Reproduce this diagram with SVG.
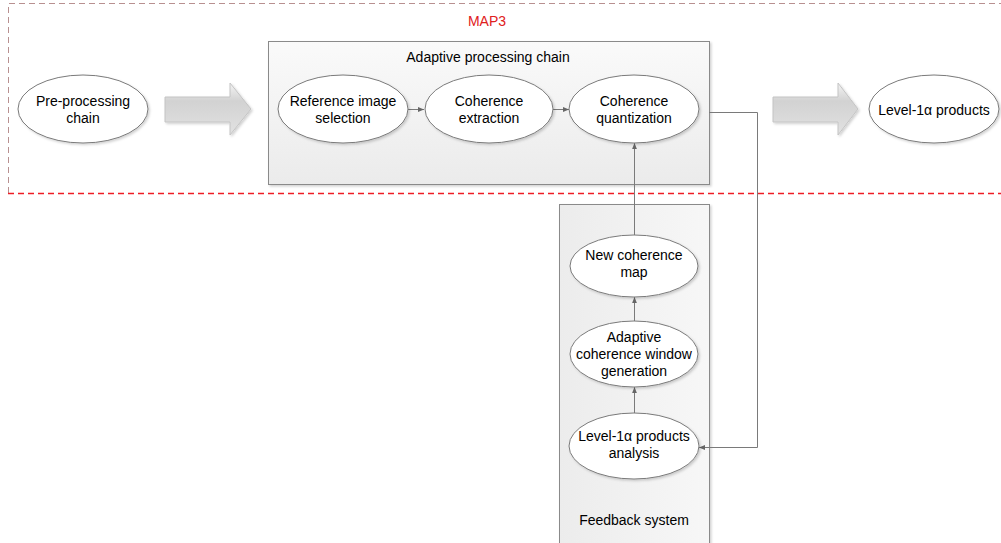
<svg xmlns="http://www.w3.org/2000/svg" width="1001" height="543" viewBox="0 0 1001 543">
<defs>
<linearGradient id="boxg" x1="0" y1="0" x2="0" y2="1"><stop offset="0" stop-color="#fafafa"/><stop offset="1" stop-color="#ebebeb"/></linearGradient>
<linearGradient id="fbg" x1="0" y1="0" x2="1" y2="0"><stop offset="0" stop-color="#ececec"/><stop offset="1" stop-color="#f7f7f7"/></linearGradient>
<linearGradient id="arrg" x1="0" y1="0" x2="0" y2="1"><stop offset="0" stop-color="#f4f4f4"/><stop offset="0.35" stop-color="#d2d2d2"/><stop offset="1" stop-color="#e2e2e2"/></linearGradient>
<marker id="ah" viewBox="0 0 10 10" refX="10" refY="5" markerWidth="6" markerHeight="6" orient="auto" markerUnits="userSpaceOnUse"><path d="M0,1 L10,5 L0,9 Z" fill="#666"/></marker>
<filter id="sh" x="-10%" y="-10%" width="130%" height="130%"><feDropShadow dx="1.5" dy="1.5" stdDeviation="1.2" flood-color="#000" flood-opacity="0.18"/></filter>
</defs>
<style>
text{font-family:"Liberation Sans",Arial,sans-serif;font-size:14px;fill:#000;text-anchor:middle}
.el{fill:#fff;stroke:#7a7a7a;stroke-width:1;filter:url(#sh)}
.box{stroke:#8a8a8a;stroke-width:1;filter:url(#sh)}
.con{fill:none;stroke:#7a7a7a;stroke-width:1}
.big{fill:url(#arrg);stroke:#c4c4c4;stroke-width:1;filter:url(#sh)}
</style>
<rect width="1001" height="543" fill="#fff"/>
<g id="map3">
<path d="M8.5,193 L8.5,3.5 L1001,3.5" fill="none" stroke="#b89090" stroke-width="1" stroke-dasharray="6,4"/>
<line x1="8" y1="193.5" x2="1001" y2="193.5" stroke="#ee1c24" stroke-width="1.4" stroke-dasharray="6,4"/>
<text x="487" y="26" style="fill:#e02020">MAP3</text>
</g>
<g id="adaptive-chain">
<rect class="box" x="268.5" y="41.5" width="441" height="143" fill="url(#boxg)"/>
<text x="488" y="62">Adaptive processing chain</text>
</g>
<g id="feedback-system">
<rect class="box" x="559.5" y="204.5" width="150" height="345" fill="url(#fbg)"/>
<text x="634" y="525">Feedback system</text>
</g>
<g id="connectors">
<line class="con" x1="408" y1="109.5" x2="424" y2="109.5" marker-end="url(#ah)"/>
<line class="con" x1="553" y1="109.5" x2="569" y2="109.5" marker-end="url(#ah)"/>
<line class="con" x1="634.5" y1="235" x2="634.5" y2="143" marker-end="url(#ah)"/>
<line class="con" x1="634.5" y1="321" x2="634.5" y2="297" marker-end="url(#ah)"/>
<line class="con" x1="634.5" y1="413" x2="634.5" y2="387" marker-end="url(#ah)"/>
<polyline class="con" points="709,112.5 757.5,112.5 757.5,447.5 699,447.5" marker-end="url(#ah)"/>
</g>
<g id="arrow1"><path class="big" d="M165,97 L230,97 L230,83 L251,109 L230,135 L230,122 L165,122 Z"/></g>
<g id="arrow2"><path class="big" d="M773,97 L838,97 L838,83 L858,109 L838,135 L838,122 L773,122 Z"/></g>
<g id="pre-processing"><ellipse class="el" cx="83" cy="109" rx="65" ry="34"/><text x="83" y="106">Pre-processing</text><text x="83" y="123">chain</text></g>
<g id="reference-image"><ellipse class="el" cx="343" cy="109" rx="65" ry="34"/><text x="343" y="106">Reference image</text><text x="343" y="123">selection</text></g>
<g id="coherence-extraction"><ellipse class="el" cx="489" cy="109" rx="64" ry="34"/><text x="489" y="106">Coherence</text><text x="489" y="123">extraction</text></g>
<g id="coherence-quantization"><ellipse class="el" cx="634" cy="109" rx="65" ry="34"/><text x="634" y="106">Coherence</text><text x="634" y="123">quantization</text></g>
<g id="level1-products"><ellipse class="el" cx="934" cy="109" rx="65" ry="34"/><text x="934" y="115">Level-1α products</text></g>
<g id="new-coherence-map"><ellipse class="el" cx="634" cy="266" rx="64" ry="31"/><text x="634" y="260">New coherence</text><text x="634" y="277">map</text></g>
<g id="adaptive-window"><ellipse class="el" cx="634" cy="354" rx="64" ry="33"/><text x="634" y="342">Adaptive</text><text x="634" y="359">coherence window</text><text x="634" y="376">generation</text></g>
<g id="products-analysis"><ellipse class="el" cx="634" cy="446" rx="65" ry="33"/><text x="634" y="441">Level-1α products</text><text x="634" y="458">analysis</text></g>
</svg>
